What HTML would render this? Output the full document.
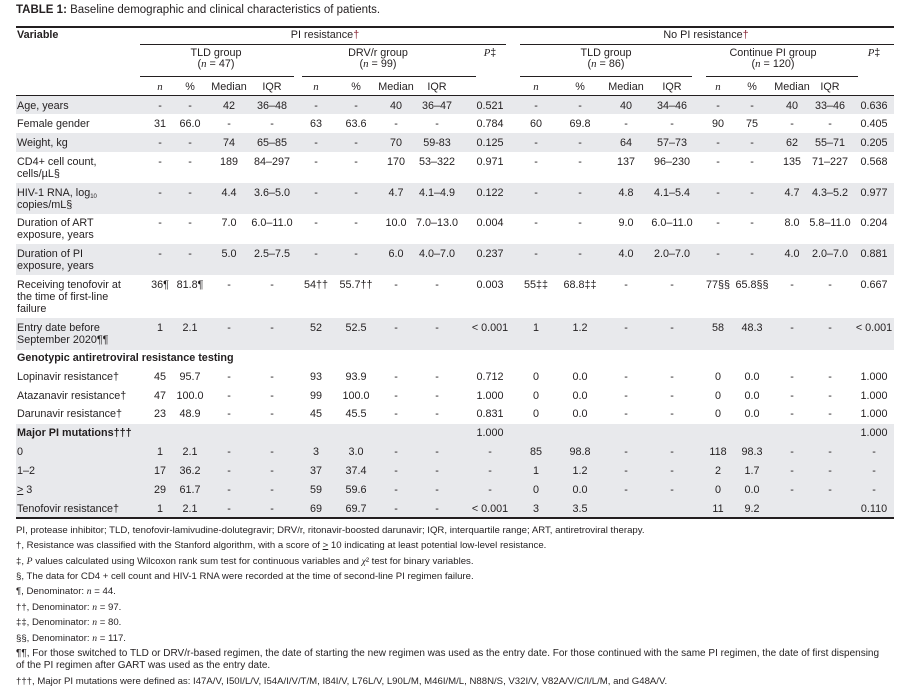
<!DOCTYPE html>
<html><head><meta charset="utf-8">
<style>
body{margin:0;width:915px;height:692px;background:#fff;position:relative;overflow:hidden;font-family:"Liberation Sans",sans-serif;color:#231f20}
.a{position:absolute;white-space:nowrap;font-size:10.8px;line-height:12px}
.c{transform:translateX(-50%)}
.ln{position:absolute;background:#231f20}
.sh{position:absolute;left:16px;width:878px;background:#e8e9ec}
.fn{position:absolute;left:16px;font-family:"Liberation Sans Narrow","Liberation Sans",sans-serif;font-size:9.6px;line-height:12px;white-space:nowrap}
i{font-family:"Liberation Serif",serif}
sub{font-size:6px;vertical-align:-2px;line-height:0}
.r{color:#8a2a3a}
</style></head><body>
<div class="a" style="left:16px;top:4px;font-size:11.5px"><b>TABLE 1:</b> Baseline demographic and clinical characteristics of patients.</div>
<div class="ln" style="left:16px;top:26px;width:878px;height:2px"></div>
<div class="a" style="left:17px;top:29px;font-weight:bold">Variable</div>
<div class="a c" style="left:325px;top:29px">PI resistance<span class="r">†</span></div>
<div class="a c" style="left:706px;top:29px">No PI resistance<span class="r">†</span></div>
<div class="ln" style="left:140px;top:44px;width:366px;height:1px"></div>
<div class="ln" style="left:520px;top:44px;width:374px;height:1px"></div>
<div class="a c" style="left:216px;top:48px;text-align:center;line-height:11px">TLD group<br>(<i>n</i> = 47)</div>
<div class="a c" style="left:378px;top:48px;text-align:center;line-height:11px">DRV/r group<br>(<i>n</i> = 99)</div>
<div class="a c" style="left:490px;top:47px"><i>P</i>‡</div>
<div class="a c" style="left:606px;top:48px;text-align:center;line-height:11px">TLD group<br>(<i>n</i> = 86)</div>
<div class="a c" style="left:773px;top:48px;text-align:center;line-height:11px">Continue PI group<br>(<i>n</i> = 120)</div>
<div class="a c" style="left:874px;top:47px"><i>P</i>‡</div>
<div class="ln" style="left:140px;top:76px;width:154px;height:1px"></div>
<div class="ln" style="left:302px;top:76px;width:174px;height:1px"></div>
<div class="ln" style="left:520px;top:76px;width:172px;height:1px"></div>
<div class="ln" style="left:706px;top:76px;width:152px;height:1px"></div>
<div class="ln" style="left:16px;top:95px;width:878px;height:1px"></div>
<div id="tbl"></div>
<div class="ln" style="left:16px;top:517px;width:878px;height:2px"></div>
<div class="fn" style="top:525px">PI, protease inhibitor; TLD, tenofovir-lamivudine-dolutegravir; DRV/r, ritonavir-boosted darunavir; IQR, interquartile range; ART, antiretroviral therapy.</div>
<div class="fn" style="top:540px">†, Resistance was classified with the Stanford algorithm, with a score of <u>&gt;</u> 10 indicating at least potential low-level resistance.</div>
<div class="fn" style="top:556px">‡, <i>P</i> values calculated using Wilcoxon rank sum test for continuous variables and <i>χ</i>² test for binary variables.</div>
<div class="fn" style="top:571px">§, The data for CD4 + cell count and HIV-1 RNA were recorded at the time of second-line PI regimen failure.</div>
<div class="fn" style="top:586px">¶, Denominator: <i>n</i> = 44.</div>
<div class="fn" style="top:602px">††, Denominator: <i>n</i> = 97.</div>
<div class="fn" style="top:617px">‡‡, Denominator: <i>n</i> = 80.</div>
<div class="fn" style="top:633px">§§, Denominator: <i>n</i> = 117.</div>
<div class="fn" style="top:648px;font-size:10px">¶¶, For those switched to TLD or DRV/r-based regimen, the date of starting the new regimen was used as the entry date. For those continued with the same PI regimen, the date of first dispensing<br>of the PI regimen after GART was used as the entry date.</div>
<div class="fn" style="top:676px">†††, Major PI mutations were defined as: I47A/V, I50I/L/V, I54A/I/V/T/M, I84I/V, L76L/V, L90L/M, M46I/M/L, N88N/S, V32I/V, V82A/V/C/I/L/M, and G48A/V.</div>
<script>
const cols=[160,190,229,272,316,356,396,437,490,536,580,626,672,718,752,792,830,874];
const subHdr=['n','%','Median','IQR','n','%','Median','IQR','','n','%','Median','IQR','n','%','Median','IQR',''];
const rowLabels=['Age, years','Female gender','Weight, kg','CD4+ cell count,<br>cells/µL§','HIV-1 RNA, log<sub>10</sub><br>copies/mL§','Duration of ART<br>exposure, years','Duration of PI<br>exposure, years','Receiving tenofovir at<br>the time of first-line<br>failure','Entry date before<br>September 2020¶¶','<b>Genotypic antiretroviral resistance testing</b>','Lopinavir resistance†','Atazanavir resistance†','Darunavir resistance†','<b>Major PI mutations†††</b>','0','1–2','<u>&gt;</u> 3','Tenofovir resistance†'];
const rowTops=[100,118,137,156,187,217,248,279,322,352,371,390,408,427,446,465,484,503];
const rowValues=[
['-','-','42','36–48','-','-','40','36–47','0.521','-','-','40','34–46','-','-','40','33–46','0.636'],
['31','66.0','-','-','63','63.6','-','-','0.784','60','69.8','-','-','90','75','-','-','0.405'],
['-','-','74','65–85','-','-','70','59-83','0.125','-','-','64','57–73','-','-','62','55–71','0.205'],
['-','-','189','84–297','-','-','170','53–322','0.971','-','-','137','96–230','-','-','135','71–227','0.568'],
['-','-','4.4','3.6–5.0','-','-','4.7','4.1–4.9','0.122','-','-','4.8','4.1–5.4','-','-','4.7','4.3–5.2','0.977'],
['-','-','7.0','6.0–11.0','-','-','10.0','7.0–13.0','0.004','-','-','9.0','6.0–11.0','-','-','8.0','5.8–11.0','0.204'],
['-','-','5.0','2.5–7.5','-','-','6.0','4.0–7.0','0.237','-','-','4.0','2.0–7.0','-','-','4.0','2.0–7.0','0.881'],
['36¶','81.8¶','-','-','54††','55.7††','-','-','0.003','55‡‡','68.8‡‡','-','-','77§§','65.8§§','-','-','0.667'],
['1','2.1','-','-','52','52.5','-','-','&lt; 0.001','1','1.2','-','-','58','48.3','-','-','&lt; 0.001'],
['','','','','','','','','','','','','','','','','',''],
['45','95.7','-','-','93','93.9','-','-','0.712','0','0.0','-','-','0','0.0','-','-','1.000'],
['47','100.0','-','-','99','100.0','-','-','1.000','0','0.0','-','-','0','0.0','-','-','1.000'],
['23','48.9','-','-','45','45.5','-','-','0.831','0','0.0','-','-','0','0.0','-','-','1.000'],
['','','','','','','','','1.000','','','','','','','','','1.000'],
['1','2.1','-','-','3','3.0','-','-','-','85','98.8','-','-','118','98.3','-','-','-'],
['17','36.2','-','-','37','37.4','-','-','-','1','1.2','-','-','2','1.7','-','-','-'],
['29','61.7','-','-','59','59.6','-','-','-','0','0.0','-','-','0','0.0','-','-','-'],
['1','2.1','-','-','69','69.7','-','-','&lt; 0.001','3','3.5','','','11','9.2','','','0.110']];
const shades=[[96,18],[133,19],[183,31],[244,31],[318,32],[424,93]];
const root=document.getElementById('tbl');
shades.forEach(s=>{const d=document.createElement('div');d.className='sh';d.style.top=s[0]+'px';d.style.height=s[1]+'px';


root.appendChild(d);});
subHdr.forEach((t,i)=>{if(!t)return;const d=document.createElement('div');d.className='a c';d.style.left=cols[i]+'px';d.style.top='81px';
d.innerHTML=t==='n'?'<i>n</i>':t;


root.appendChild(d);});
rowLabels.forEach((lab,r)=>{const d=document.createElement('div');d.className='a';d.style.left='17px';d.style.top=rowTops[r]+'px';d.innerHTML=lab;


root.appendChild(d);
rowValues[r].forEach((v,i)=>{if(!v)return;const e=document.createElement('div');e.className='a c';e.style.left=cols[i]+'px';e.style.top=rowTops[r]+'px';e.innerHTML=v;


root.appendChild(e);});});
</script>
</body></html>
